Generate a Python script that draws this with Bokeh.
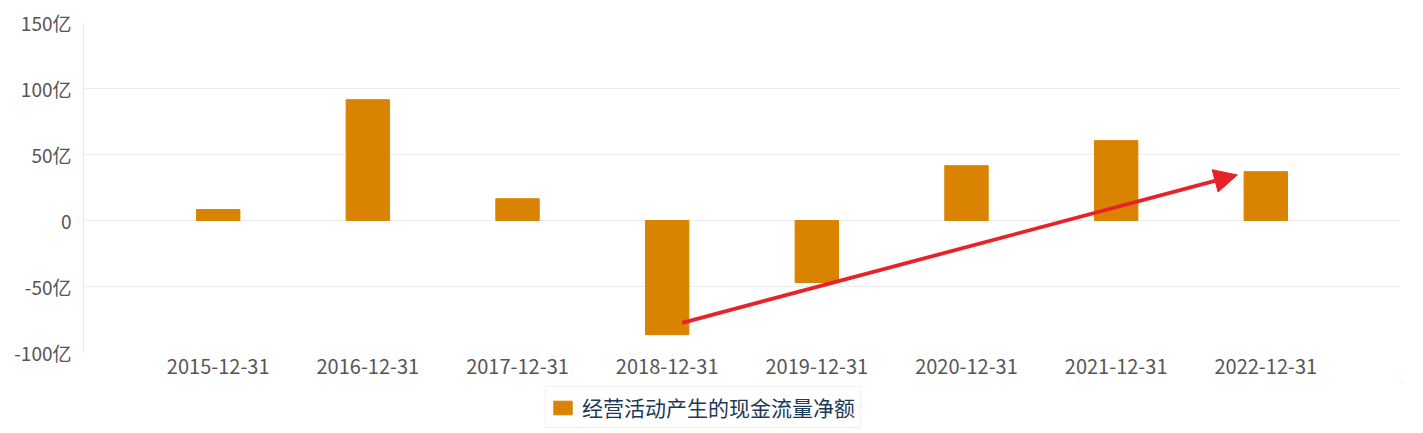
from bokeh.plotting import figure
from bokeh.layouts import column
from bokeh.models import FactorRange, Range1d, FixedTicker, Legend, LegendItem, Arrow, NormalHead
from bokeh.embed import file_html
from bokeh.resources import INLINE

categories = ["2015-12-31", "2016-12-31", "2017-12-31", "2018-12-31",
              "2019-12-31", "2020-12-31", "2021-12-31", "2022-12-31"]
values = [8.3, 91.5, 16.5, -86.5, -47.0, 41.5, 60.5, 37.0]  # 亿
y_ticks = [-100, -50, 0, 50, 100, 150]
y_labels = ["-100亿", "-50亿", "0", "50亿", "100亿", "150亿"]
series_name = "经营活动产生的现金流量净额"
arrow_x = [3.6, 7.31]
arrow_y = [-77.5, 34.5]

BAR = "#D98300"
FONT = "Noto Sans CJK SC"

p = figure(x_range=FactorRange(*categories, range_padding=0.1),
           y_range=Range1d(-100, 150),
           width=1423, height=382,
           output_backend="svg", toolbar_location=None)
p.min_border_left = 83
p.min_border_right = 23
p.min_border_top = 22
p.min_border_bottom = 30
p.outline_line_color = None
p.background_fill_color = "white"
p.border_fill_color = "white"

r = p.vbar(x=categories, top=values, bottom=0, width=0.29, color=BAR)

p.yaxis.ticker = FixedTicker(ticks=y_ticks)
p.yaxis.major_label_overrides = {t: l for t, l in zip(y_ticks, y_labels)}
p.yaxis.axis_line_color = "#e6e6e6"
p.yaxis.major_tick_line_color = None
p.yaxis.minor_tick_line_color = None
p.yaxis.major_label_text_font = FONT
p.yaxis.major_label_text_font_size = "19px"
p.yaxis.major_label_text_color = "#555555"
p.yaxis.major_label_standoff = 6

p.xaxis.axis_line_color = None
p.xaxis.major_tick_line_color = None
p.xaxis.minor_tick_line_color = None
p.xaxis.major_label_text_font = FONT
p.xaxis.major_label_text_font_size = "20px"
p.xaxis.major_label_text_color = "#555555"
p.xaxis.major_label_standoff = 0

p.xgrid.grid_line_color = None
p.ygrid.grid_line_color = "#ececec"
p.ygrid.ticker = FixedTicker(ticks=y_ticks)

arrow = Arrow(x_start=arrow_x[0], y_start=arrow_y[0], x_end=arrow_x[1], y_end=arrow_y[1],
              line_color="#E8222A", line_width=3.8,
              end=NormalHead(size=23, fill_color="#E8222A", line_color="#E8222A"))
p.add_layout(arrow)

# legend strip below the chart
q = figure(width=1423, height=51, x_range=Range1d(0, 1), y_range=Range1d(0, 1),
           output_backend="svg", toolbar_location=None)
q.min_border_left = 0
q.min_border_right = 0
q.min_border_top = 0
q.min_border_bottom = 0
q.outline_line_color = None
q.axis.visible = False
q.grid.visible = False
q.border_fill_color = "white"
# a swatch renderer kept outside the visible range, used only by the legend
rq = q.vbar(x=[5], top=[5], bottom=[4], width=0.29, color=BAR)

legend = Legend(items=[LegendItem(label=series_name, renderers=[rq])],
                location=(462, 5), orientation="horizontal")
legend.label_text_font = FONT
legend.label_text_font_size = "21px"
legend.label_text_color = "#1b3a57"
legend.border_line_color = "#e3e3e3"
legend.border_line_width = 1
legend.glyph_width = 23
legend.glyph_height = 17
legend.label_height = 20
legend.padding = 5
legend.margin = 0
legend.label_standoff = 8
legend.spacing = 0
q.add_layout(legend)

open("out.html", "w").write(file_html(column(p, q, spacing=0), INLINE))
